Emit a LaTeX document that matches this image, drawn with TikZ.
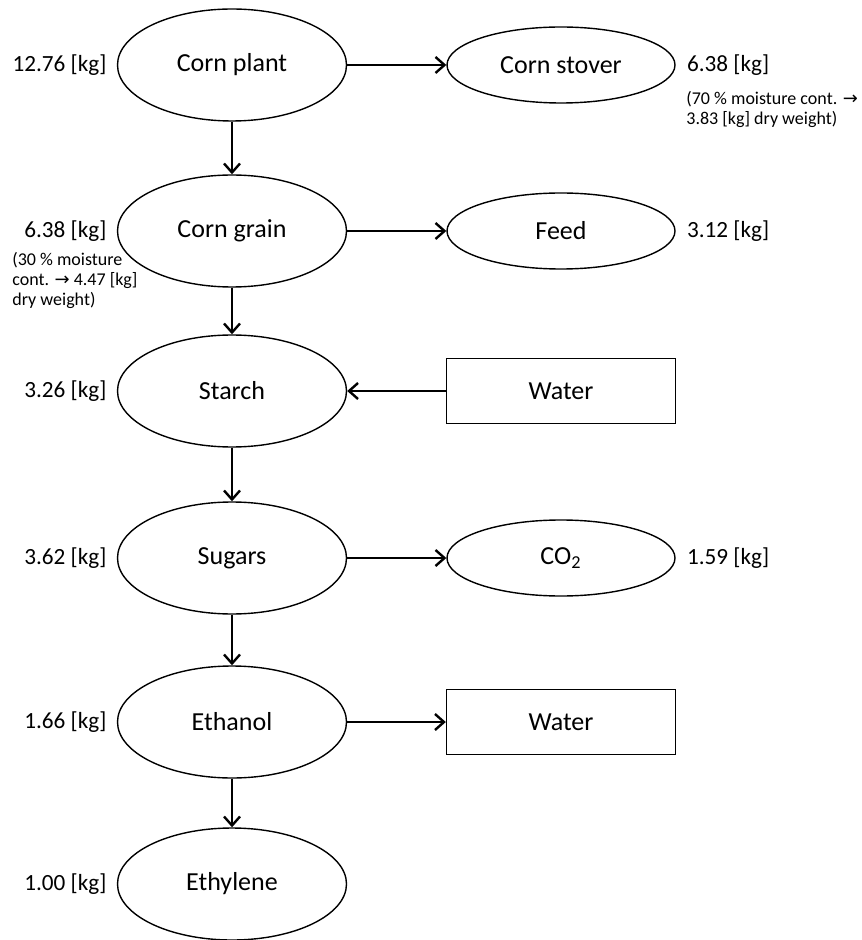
\documentclass[tikz,border=0pt]{standalone}
\usepackage{fontspec}
\setmainfont{Carlito}
\newfontfamily\arrowfont{DejaVu Sans}
\usetikzlibrary{shapes.geometric, positioning, arrows.meta}
\newcommand{\yields}{{\arrowfont\char"2192}}

\begin{document}
\begin{tikzpicture}[x=0.5pt, y=-0.5pt,
            mainnode/.style={draw, ellipse, line width=0.7pt, minimum width=114.5pt, minimum height=56pt, inner sep=0pt, font=\fontsize{13}{15}\selectfont},
            sidenode/.style={draw, ellipse, line width=0.7pt, minimum width=114pt, minimum height=38pt, inner sep=0pt, font=\fontsize{13}{15}\selectfont},
            boxnode/.style={draw, rectangle, line width=0.7pt, minimum width=114.5pt, minimum height=32.5pt, inner sep=0pt, font=\fontsize{13}{15}\selectfont},
            mass/.style={inner sep=0pt, font=\fontsize{11.6}{14}\selectfont},
            note/.style={inner sep=0pt, align=left, font=\fontsize{9}{10}\selectfont},
            arrow/.style={-{Straight Barb[length=4.5pt, width=8pt]}, line width=1.2pt}
        ]
            \useasboundingbox (0,0) rectangle (861,940);

            % Main process chain (top to bottom)
            \node[mainnode] (plant) at (232,65) {Corn plant};
            \node[mainnode] (grain) at (232,231) {Corn grain};
            \node[mainnode] (starch) at (232,391) {Starch};
            \node[mainnode] (sugars) at (232,558) {Sugars};
            \node[mainnode] (ethanol) at (232,722) {Ethanol};
            \node[mainnode] (ethylene) at (232,884) {Ethylene};

            % Side streams
            \node[sidenode] (stover) at (561,65) {Corn stover};
            \node[sidenode] (feed) at (561,231) {Feed};
            \node[boxnode] (water1) at (561,391) {Water};
            \node[sidenode] (co2) at (561,558) {CO\textsubscript{2}};
            \node[boxnode] (water2) at (561,722) {Water};

            % Masses
            \node[mass, left=5pt of plant] (mplant) {12.76 [kg]};
            \node[mass, left=5pt of grain] (mgrain) {6.38 [kg]};
            \node[mass, left=5pt of starch] (mstarch) {3.26 [kg]};
            \node[mass, left=5pt of sugars] (msugars) {3.62 [kg]};
            \node[mass, left=5pt of ethanol] (methanol) {1.66 [kg]};
            \node[mass, left=5pt of ethylene] (methylene) {1.00 [kg]};
            \node[mass, right=5.5pt of stover] (mstover) {6.38 [kg]};
            \node[mass, right=5.5pt of feed] (mfeed) {3.12 [kg]};
            \node[mass, right=5.5pt of co2] (mco2) {1.59 [kg]};

            % Moisture notes
            \node[note, anchor=north west] (nstover) at (686,91) {(70 \% moisture cont. \yields\\3.83 [kg] dry weight)};
            \node[note, anchor=north west] (ngrain) at (12,252) {(30 \% moisture\\cont. \yields{} 4.47 [kg]\\dry weight)};

            % Arrows
            \draw[arrow] (plant) -- (grain);
            \draw[arrow] (grain) -- (starch);
            \draw[arrow] (starch) -- (sugars);
            \draw[arrow] (sugars) -- (ethanol);
            \draw[arrow] (ethanol) -- (ethylene);
            \draw[arrow] (plant) -- (stover);
            \draw[arrow] (grain) -- (feed);
            \draw[arrow] (water1) -- (starch);
            \draw[arrow] (sugars) -- (co2);
            \draw[arrow] (ethanol) -- (water2);
        \end{tikzpicture}
\end{document}
